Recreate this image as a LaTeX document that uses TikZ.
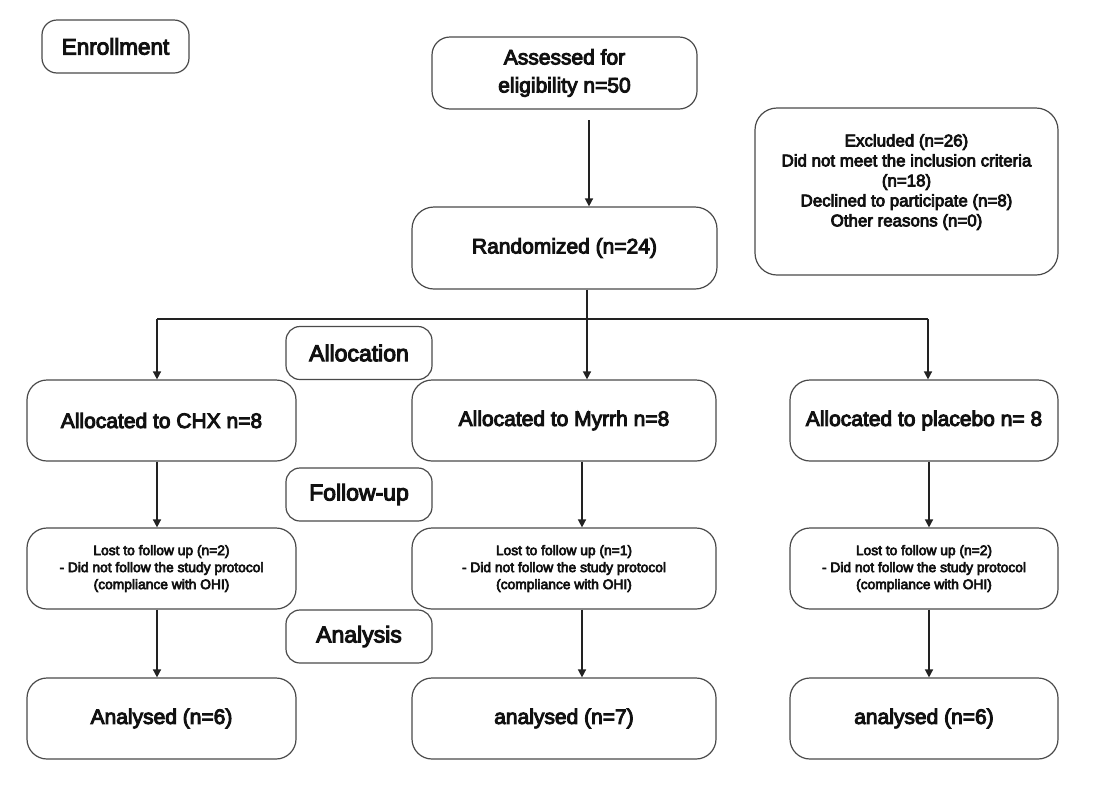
\documentclass[tikz,border=0pt]{standalone}
\usepackage{fontspec}
\setmainfont{Liberation Sans}[FakeBold=4.5]
\usetikzlibrary{arrows.meta}
\definecolor{boxgray}{HTML}{4A4A4A}
\definecolor{linegray}{HTML}{222222}
\definecolor{textblack}{HTML}{111111}
\newcommand{\fs}[2]{\fontsize{#1}{#2}\selectfont}
\begin{document}
\begin{tikzpicture}[x=1pt,y=-1pt,
  box/.style={draw=boxgray, line width=1.2pt, rounded corners=20pt, align=center, inner sep=0pt, text=textblack},
  lbl/.style={box, rounded corners=14pt, minimum width=146pt, minimum height=53pt, font=\fs{23}{28}},
  big/.style={box, minimum height=81pt, font=\fs{21}{28}},
  small/.style={box, minimum height=81pt, font=\fs{13.8}{17}},
  conn/.style={draw=linegray, line width=1.5pt},
  arr/.style={conn, -{Triangle[length=8pt,width=8pt]}}]
\useasboundingbox (0,0) rectangle (1105,801);
\fill[white] (0,0) rectangle (1105,801);

% enrollment and top
\node[box, rounded corners=15pt, minimum width=147pt, minimum height=53pt, font=\fs{22.5}{28}] (enroll) at (115.5,46.5) {Enrollment};
\node[box, rounded corners=18pt, minimum width=265pt, minimum height=72pt, font=\fs{21}{28}] (assess) at (564.5,73) {Assessed for\\eligibility n=50};
\node[box, rounded corners=22pt, minimum width=305pt, minimum height=82pt, font=\fs{21}{28}] (random) at (564.5,248) {Randomized (n=24)};
\node[box, rounded corners=22pt, minimum width=303pt, minimum height=167pt] (excl) at (906.5,191.5) {};
\node[align=center, inner sep=0pt, text=textblack, font=\fs{16.9}{20}] (excltext) at (906.5,182) {Excluded (n=26)\\Did not meet the inclusion criteria\\(n=18)\\Declined to participate (n=8)\\Other reasons (n=0)};

% section labels
\node[lbl] (alloc) at (359,353) {Allocation};
\node[lbl] (follow) at (359,494.5) {Follow-up};
\node[lbl] (analysis) at (359,636.5) {Analysis};

% allocation row
\node[big, minimum width=269pt] (chx) at (161.5,420.5) {Allocated to CHX n=8};
\node[big, minimum width=304pt] (myrrh) at (564,420.5) {Allocated to Myrrh n=8};
\node[big, minimum width=268pt] (placebo) at (924,420.5) {Allocated to placebo n= 8};

% lost row
\node[small, minimum width=269pt] (lost1) at (161.5,568.5) {Lost to follow up (n=2)\\- Did not follow the study protocol\\(compliance with OHI)};
\node[small, minimum width=304pt] (lost2) at (564,568.5) {Lost to follow up (n=1)\\- Did not follow the study protocol\\(compliance with OHI)};
\node[small, minimum width=268pt] (lost3) at (924,568.5) {Lost to follow up (n=2)\\- Did not follow the study protocol\\(compliance with OHI)};

% analysed row
\node[big, minimum width=269pt] (an1) at (161.5,718.5) {Analysed (n=6)};
\node[big, minimum width=304pt] (an2) at (564,718.5) {analysed (n=7)};
\node[big, minimum width=268pt] (an3) at (924,718.5) {analysed (n=6)};

% connectors
\coordinate (a0) at (589,120);
\draw[arr] (a0) -- (random.north -| a0);
\coordinate (j0) at (157,319);
\coordinate (j1) at (587,319);
\coordinate (j2) at (928,319);
\draw[conn] (random.south -| j1) -- (j1);
\draw[conn] (j0) -- (j2);
\draw[arr] (j0) -- (chx.north -| j0);
\draw[arr] (j1) -- (myrrh.north -| j1);
\draw[arr] (j2) -- (placebo.north -| j2);

\coordinate (c0) at (157,500);
\coordinate (c1) at (582,500);
\coordinate (c2) at (929,500);
\draw[arr] (chx.south -| c0) -- (lost1.north -| c0);
\draw[arr] (myrrh.south -| c1) -- (lost2.north -| c1);
\draw[arr] (placebo.south -| c2) -- (lost3.north -| c2);
\draw[arr] (lost1.south -| c0) -- (an1.north -| c0);
\draw[arr] (lost2.south -| c1) -- (an2.north -| c1);
\draw[arr] (lost3.south -| c2) -- (an3.north -| c2);
\end{tikzpicture}
\end{document}
